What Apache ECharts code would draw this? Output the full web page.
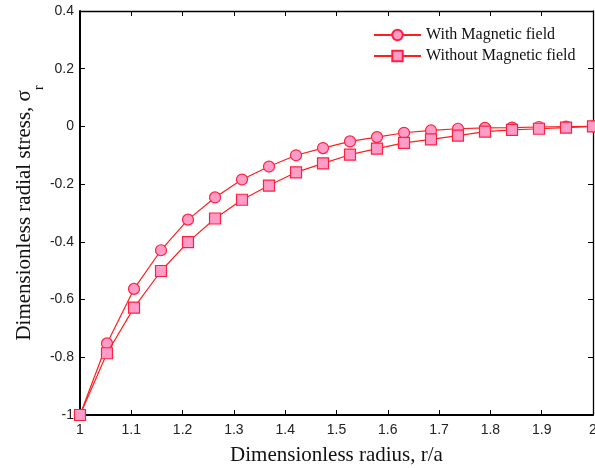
<!DOCTYPE html>
<html>
<head>
<meta charset="utf-8">
<script src="https://cdn.jsdelivr.net/npm/echarts@6/dist/echarts.min.js"></script>
<style>html,body{margin:0;padding:0;background:#fff}#c{width:595px;height:468px}</style>
</head>
<body>
<div id="c"></div>
<script>
var radius = [1, 1.0526, 1.1053, 1.1579, 1.2105, 1.2632, 1.3158, 1.3684, 1.4211, 1.4737, 1.5263, 1.5789, 1.6316, 1.6842, 1.7368, 1.7895, 1.8421, 1.8947, 1.9474, 2];
var withMagnetic = [-1, -0.752, -0.563, -0.429, -0.323, -0.246, -0.184, -0.139, -0.100, -0.075, -0.052, -0.037, -0.022, -0.014, -0.008, -0.005, -0.004, -0.002, -0.001, 0];
var withoutMagnetic = [-1, -0.786, -0.628, -0.501, -0.401, -0.319, -0.254, -0.205, -0.159, -0.128, -0.098, -0.077, -0.057, -0.045, -0.032, -0.018, -0.012, -0.008, -0.004, 0];
var seriesNames = ['With Magnetic field', 'Without Magnetic field'];
var xTitle = 'Dimensionless radius, r/a';
var yTitle = 'Dimensionless radial stress, σ';
var ySub = 'r';

function pairs(xs, ys) { return xs.map(function (x, i) { return [x, ys[i]]; }); }

var chart = echarts.init(document.getElementById('c'), null, {renderer: 'canvas'});
var serif = '"Liberation Serif", "Times New Roman", serif';
var sans = '"Liberation Sans", Arial, sans-serif';
var lineColor = '#ff1e1e';
var fillColor = '#ff9cc8';
var edgeColor = '#ff2040';

chart.setOption({
  animation: false,
  backgroundColor: '#fff',
  grid: {left: 80, right: 2, top: 11, bottom: 53, containLabel: false, outerBoundsMode: 'none'},
  legend: {
    orient: 'vertical', left: 368, top: 22,
    itemWidth: 47, itemHeight: 13, itemGap: 5,
    textStyle: {fontFamily: serif, fontSize: 16, color: '#111'},
    data: seriesNames
  },
  xAxis: [{
    type: 'value', min: 1, max: 2, interval: 0.1,
    name: xTitle, nameLocation: 'middle', nameGap: 30, nameMoveOverlap: false,
    nameTextStyle: {fontFamily: serif, fontSize: 21, color: '#111'},
    axisLine: {onZero: false, lineStyle: {color: '#000', width: 2}},
    axisTick: {inside: true, length: 5, lineStyle: {color: '#000'}},
    axisLabel: {fontFamily: sans, fontSize: 14, color: '#222', margin: 8},
    splitLine: {show: false}
  }, {
    type: 'value', position: 'top', min: 1, max: 2, interval: 0.1,
    axisLine: {onZero: false, lineStyle: {color: '#000', width: 1.3}},
    axisTick: {inside: true, length: 5, lineStyle: {color: '#000'}},
    axisLabel: {show: false}, splitLine: {show: false}
  }],
  yAxis: [{
    type: 'value', min: -1, max: 0.4, interval: 0.2,
    name: '{m|' + yTitle + '}{s|' + ySub + '}', nameLocation: 'middle', nameGap: 34, nameRotate: 90,
    nameMoveOverlap: false,
    nameTextStyle: {
      rich: {
        m: {fontFamily: serif, fontSize: 21, color: '#111', lineHeight: 32, verticalAlign: 'top'},
        s: {fontFamily: serif, fontSize: 14, color: '#111', lineHeight: 32, verticalAlign: 'bottom'}
      }
    },
    axisLine: {onZero: false, lineStyle: {color: '#000', width: 2}},
    axisTick: {inside: true, length: 5, lineStyle: {color: '#000'}},
    axisLabel: {fontFamily: sans, fontSize: 14, color: '#222', margin: 6},
    splitLine: {show: false}
  }, {
    type: 'value', position: 'right', min: -1, max: 0.4, interval: 0.2,
    axisLine: {onZero: false, lineStyle: {color: '#000', width: 1.3}},
    axisTick: {inside: true, length: 5, lineStyle: {color: '#000'}},
    axisLabel: {show: false}, splitLine: {show: false}
  }],
  series: [{
    name: seriesNames[0], type: 'line', xAxisIndex: 0, yAxisIndex: 0,
    data: pairs(radius, withMagnetic),
    symbol: 'circle', symbolSize: 11, showAllSymbol: true,
    lineStyle: {color: lineColor, width: 1.2},
    itemStyle: {color: fillColor, borderColor: edgeColor, borderWidth: 1.2},
    z: 3
  }, {
    name: seriesNames[1], type: 'line', xAxisIndex: 0, yAxisIndex: 0,
    data: pairs(radius, withoutMagnetic),
    symbol: 'rect', symbolSize: 11, showAllSymbol: true,
    lineStyle: {color: lineColor, width: 1.2},
    itemStyle: {color: fillColor, borderColor: edgeColor, borderWidth: 1.2},
    z: 4
  }]
});
</script>
</body>
</html>
